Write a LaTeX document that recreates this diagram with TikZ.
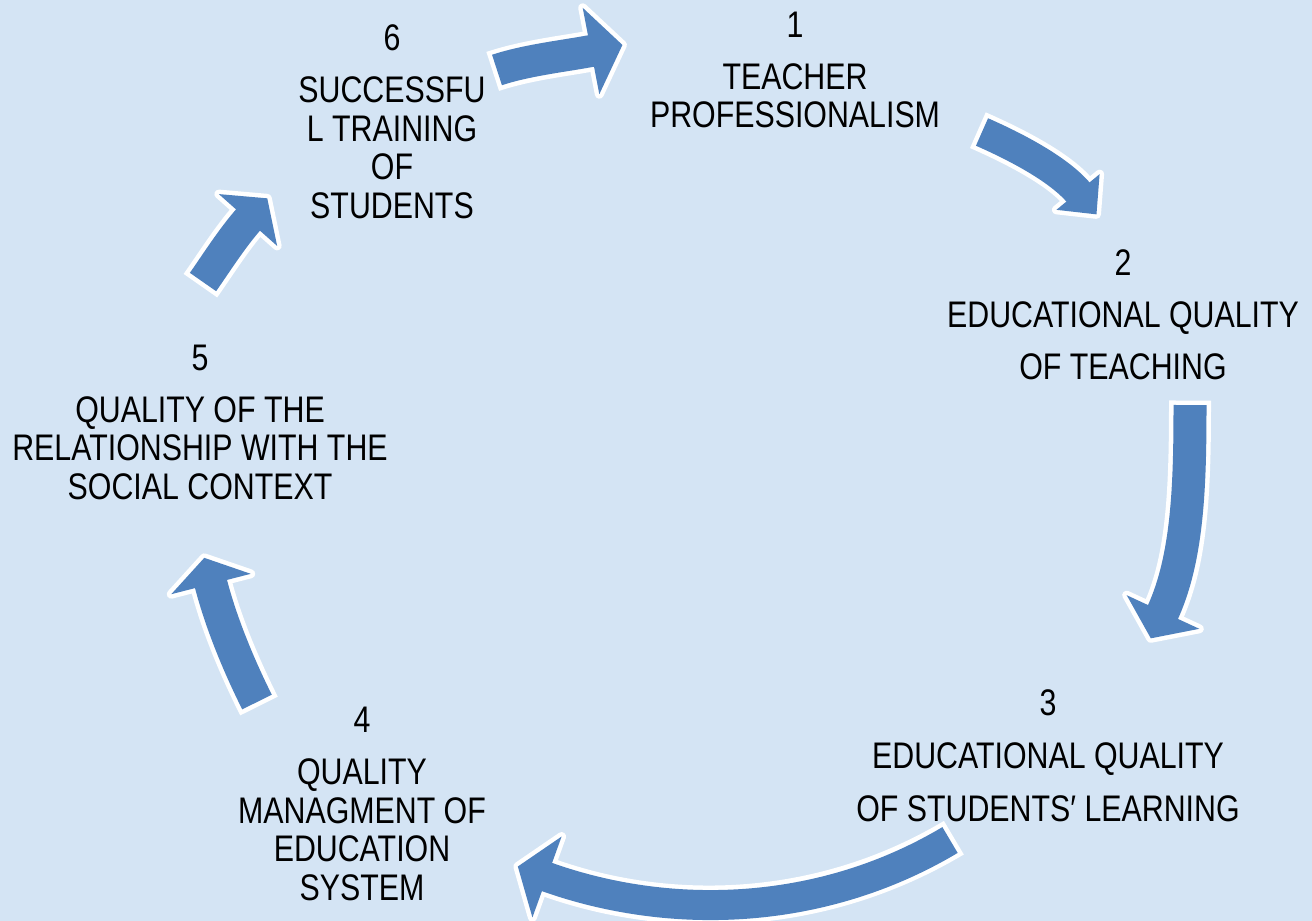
\documentclass[tikz,border=0pt]{standalone}
\usepackage{fontspec}
\newfontfamily\narrowfont[FakeStretch=0.82]{Liberation Sans}
\usetikzlibrary{calc}
\definecolor{bgblue}{RGB}{212,228,244}
\definecolor{arrowblue}{RGB}{79,129,189}
% #1 name, #2 tail, #3 ctrl1, #4 ctrl2, #5 head base, #6 shaft width, #7 head half width, #8 head length
\newcommand\blockarrow[8]{%
  \coordinate (#1t) at #2;
  \coordinate (#1a) at #3;
  \coordinate (#1b) at #4;
  \coordinate (#1h) at #5;
  \coordinate (#1p) at ($(#1h)!#8pt!180:(#1b)$);
  \coordinate (#1l) at ($(#1h)!#7pt!90:(#1b)$);
  \coordinate (#1r) at ($(#1h)!#7pt!-90:(#1b)$);
  \draw[white, line width=#6+9, shorten <=-4.5pt] (#1t) .. controls (#1a) and (#1b) .. (#1h);
  \draw[white, fill=white, line width=9pt, line join=round] (#1l) -- (#1p) -- (#1r) -- cycle;
  \draw[arrowblue, line width=#6, shorten >=-2pt] (#1t) .. controls (#1a) and (#1b) .. (#1h);
  \fill[arrowblue] (#1l) -- (#1p) -- (#1r) -- cycle;
}
\begin{document}
\begin{tikzpicture}[x=1pt,y=-1pt,
  lbl/.style={font={\narrowfont\fontsize{37}{38.5}\selectfont}, align=center, inner sep=0pt, anchor=north, text=black}]
\useasboundingbox (0,0) rectangle (1312,921);
\fill[bgblue] (0,0) rectangle (1312,921);

\node[lbl] (n1) at (795,11.5) {1\\[13.5pt]TEACHER\\PROFESSIONALISM};
\node[lbl] (n2) at (1123,249.5) {2\\[13.5pt]EDUCATIONAL QUALITY\\[13.5pt]OF TEACHING};
\node[lbl] (n3) at (1048,689.5) {3\\[14.5pt]EDUCATIONAL QUALITY\\[14.5pt]OF STUDENTS′ LEARNING};
\node[lbl] (n4) at (362,706.5) {4\\[14pt]QUALITY\\MANAGMENT OF\\EDUCATION\\SYSTEM};
\node[lbl] (n5) at (200,344.5) {5\\[13.5pt]QUALITY OF THE\\RELATIONSHIP WITH THE\\SOCIAL CONTEXT};
\node[lbl] (n6) at (392,24.5) {6\\[13.5pt]SUCCESSFU\\L TRAINING\\OF\\STUDENTS};

\blockarrow{aA}{(497,70)}{(527,60)}{(565,56)}{(591,51)}{32}{44}{32}
\blockarrow{aB}{(982,132)}{(1014,146)}{(1059,169)}{(1078,192)}{30}{28}{29}
\blockarrow{aC}{(1190,405)}{(1190,485)}{(1188,558)}{(1163,612)}{33}{40}{29}
\blockarrow{aD}{(950,840)}{(821,917)}{(669,921)}{(547,877)}{30}{43}{31}
\blockarrow{aE}{(257,702)}{(239,666)}{(221,623)}{(211,584)}{33}{41}{27}
\blockarrow{aF}{(203,282)}{(215,265)}{(232,238)}{(248,220)}{32}{39}{29}
\end{tikzpicture}
\end{document}
